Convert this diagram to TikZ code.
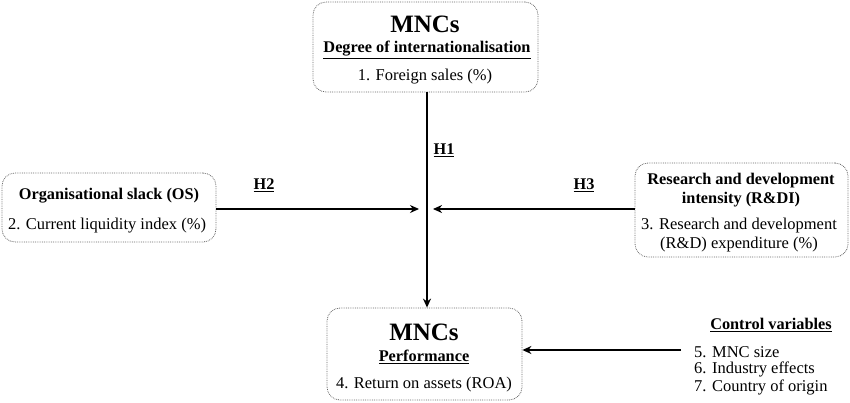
\documentclass[tikz,border=0pt]{standalone}
\usepackage{fontspec}
\setmainfont{Liberation Serif}
\usetikzlibrary{arrows.meta}
\begin{document}
\begin{tikzpicture}[x=1pt,y=-1pt,
  box/.style={draw=black!60, densely dotted, line width=0.8pt, rounded corners=13pt},
  txt/.style={inner sep=0pt, anchor=center, font=\fontsize{16.5}{18}\selectfont},
  btxt/.style={txt, font=\fontsize{16.3}{18}\selectfont\bfseries},
  big/.style={inner sep=0pt, anchor=center, font=\fontsize{25}{27}\selectfont\bfseries},
  arr/.style={line width=1.4pt, -{Stealth[length=9pt,width=8pt]}}]
\useasboundingbox (0,0) rectangle (850,402);
% boxes
\node[box, minimum width=225pt, minimum height=90pt, inner sep=0pt] (top) at (425.5,47) {};
\node[box, minimum width=214pt, minimum height=69pt, inner sep=0pt] (left) at (109,207.5) {};
\node[box, minimum width=213pt, minimum height=94pt, inner sep=0pt] (right) at (741.5,210) {};
\node[box, minimum width=195pt, minimum height=92pt, inner sep=0pt] (bot) at (424.5,354) {};
% top texts
\node[big] (t1) at (425,24) {MNCs};
\node[btxt] (t2) at (427,50) {\underline{Degree of internationalisation}};
\node[txt] (t3) at (425,77) {1. Foreign sales (\%)};
% left texts
\node[btxt] (l1) at (109,196) {Organisational slack (OS)};
\node[txt] (l2) at (107,226) {2. Current liquidity index (\%)};
% right texts
\node[btxt] (r1) at (741,181) {Research and development};
\node[btxt] (r2) at (741,200) {intensity (R\&DI)};
\node[txt] (r3) at (739,226) {3. Research and development};
\node[txt] (r4) at (739,245) {(R\&D) expenditure (\%)};
% bottom texts
\node[big] (b1) at (424,332) {MNCs};
\node[btxt] (b2) at (424,357) {\underline{Performance}};
\node[txt] (b3) at (424,385) {4. Return on assets (ROA)};
% control
\node[btxt] (c0) at (771,325) {\underline{Control variables}};
\node[txt, anchor=west] (c1) at (694,352) {5. MNC size};
\node[txt, anchor=west] (c2) at (694,369) {6. Industry effects};
\node[txt, anchor=west] (c3) at (694,387) {7. Country of origin};
% labels
\node[btxt] (h1) at (444,150) {\underline{H1}};
\node[btxt] (h2) at (264,185) {\underline{H2}};
\node[btxt] (h3) at (584,185) {\underline{H3}};
% connectors
\coordinate (lend) at (419,209);
\coordinate (rend) at (433,209);
\coordinate (cstart) at (681,350);
\draw[arr] (top.south -| 427,0) -- (bot.north -| 427,0);
\draw[arr] (left.east |- lend) -- (lend);
\draw[arr] (right.west |- rend) -- (rend);
\draw[arr] (cstart) -- (bot.east |- cstart);
\end{tikzpicture}
\end{document}
